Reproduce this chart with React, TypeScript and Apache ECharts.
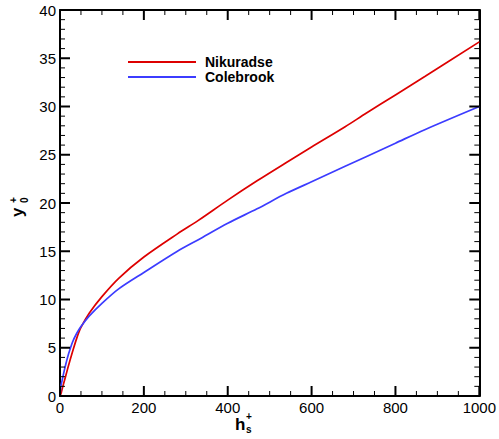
import React, { useEffect, useRef } from "react";
import * as echarts from "echarts";

const hs = [0, 2, 5, 10, 15, 20, 30, 40, 50, 70, 100, 140, 200, 280, 330, 400, 470, 540, 600, 680, 730, 800, 870, 1000];
const nikuradse = [0, 0.2, 0.7, 1.5, 2.3, 3.1, 4.6, 6.0, 7.1, 8.6, 10.3, 12.2, 14.4, 16.8, 18.2, 20.3, 22.3, 24.2, 25.8, 27.9, 29.3, 31.2, 33.1, 36.7];
const colebrook = [0, 1.0, 1.6, 2.6, 3.5, 4.3, 5.6, 6.5, 7.2, 8.3, 9.6, 11.1, 12.8, 15.0, 16.2, 17.9, 19.4, 21.0, 22.2, 23.8, 24.8, 26.2, 27.6, 30.0];
const seriesNames = ["Nikuradse", "Colebrook"];

const X_MIN = 0;
const X_MAX = 1000;
const X_MAJOR = 200;
const X_MINOR = 50;
const Y_MIN = 0;
const Y_MAX = 40;
const Y_MAJOR = 5;
const Y_MINOR = 1;

const FONT = "'Liberation Sans', Arial, sans-serif";

// tick marks: [axis (0 = x, 1 = y), value, major (1/0)]
const tickItems: number[][] = [];
for (let v = X_MIN; v <= X_MAX; v += X_MINOR) tickItems.push([0, v, v % X_MAJOR === 0 ? 1 : 0]);
for (let v = Y_MIN; v <= Y_MAX; v += Y_MINOR) tickItems.push([1, v, v % Y_MAJOR === 0 ? 1 : 0]);

export default function App() {
  const ref = useRef<HTMLDivElement>(null);
  useEffect(() => {
    if (!ref.current) return;
    const chart = echarts.init(ref.current, null, { renderer: "svg" });
    const mk = (pos: string, showLabel: boolean, min: number, max: number, interval: number) => ({
      type: "value",
      position: pos,
      min,
      max,
      interval,
      axisLine: { show: true, onZero: false, lineStyle: { color: "#000", width: 2 } },
      axisTick: { show: false },
      minorTick: { show: false },
      splitLine: { show: false },
      axisLabel: {
        show: showLabel,
        color: "#000",
        fontSize: 15,
        fontFamily: FONT,
        margin: 4,
        formatter: (v: number) => String(v),
      },
    });
    chart.setOption({
      animation: false,
      grid: { left: 60, right: 15, top: 10, bottom: 43 },
      legend: {
        orient: "vertical",
        left: 123,
        top: 50,
        icon: "rect",
        itemWidth: 68,
        itemHeight: 2,
        itemGap: 1,
        textStyle: { fontFamily: FONT, fontWeight: "bold", fontSize: 14, color: "#000", padding: [0, 0, 0, 4] },
        data: seriesNames,
      },
      xAxis: [mk("bottom", true, X_MIN, X_MAX, X_MAJOR), mk("top", false, X_MIN, X_MAX, X_MAJOR)],
      yAxis: [mk("left", true, Y_MIN, Y_MAX, Y_MAJOR), mk("right", false, Y_MIN, Y_MAX, Y_MAJOR)],
      series: [
        {
          name: seriesNames[0],
          type: "line",
          data: hs.map((x, i) => [x, nikuradse[i]]),
          showSymbol: false,
          smooth: 0.3,
          lineStyle: { color: "#dd0000", width: 1.7 },
          itemStyle: { color: "#dd0000" },
        },
        {
          name: seriesNames[1],
          type: "line",
          data: hs.map((x, i) => [x, colebrook[i]]),
          showSymbol: false,
          smooth: 0.3,
          lineStyle: { color: "#3c3cff", width: 1.7 },
          itemStyle: { color: "#3c3cff" },
        },
        {
          name: "ticks",
          type: "custom",
          silent: true,
          clip: false,
          z: 5,
          data: tickItems,
          renderItem: (_params: any, api: any) => {
            const axis = api.value(0);
            const v = api.value(1);
            const major = api.value(2) === 1;
            const len = major ? 10 : 5;
            const w = major ? 2 : 1;
            const style = { stroke: "#000", lineWidth: w };
            if (axis === 0) {
              const b = api.coord([v, Y_MIN]);
              const t = api.coord([v, Y_MAX]);
              return {
                type: "group",
                children: [
                  { type: "line", shape: { x1: b[0], y1: b[1], x2: b[0], y2: b[1] - len }, style },
                  { type: "line", shape: { x1: t[0], y1: t[1], x2: t[0], y2: t[1] + len }, style },
                ],
              };
            }
            const l = api.coord([X_MIN, v]);
            const r = api.coord([X_MAX, v]);
            return {
              type: "group",
              children: [
                { type: "line", shape: { x1: l[0], y1: l[1], x2: l[0] + len, y2: l[1] }, style },
                { type: "line", shape: { x1: r[0], y1: r[1], x2: r[0] - len, y2: r[1] }, style },
              ],
            };
          },
        },
      ],
      graphic: [
        { type: "text", x: 235, y: 416, style: { text: "h", font: `bold 17px ${FONT}`, fill: "#000" } },
        { type: "text", x: 246, y: 411, style: { text: "+", font: `bold 10px ${FONT}`, fill: "#000" } },
        { type: "text", x: 246, y: 424, style: { text: "s", font: `bold 10px ${FONT}`, fill: "#000" } },
        { type: "text", x: 9, y: 217, rotation: Math.PI / 2, style: { text: "y", font: `bold 17px ${FONT}`, fill: "#000" } },
        { type: "text", x: 8, y: 203, rotation: Math.PI / 2, style: { text: "+", font: `bold 10px ${FONT}`, fill: "#000" } },
        { type: "text", x: 19.5, y: 203, rotation: Math.PI / 2, style: { text: "0", font: `bold 10px ${FONT}`, fill: "#000" } },
      ],
    });
    return () => chart.dispose();
  }, []);
  return <div ref={ref} style={{ position: "fixed", left: 0, top: 0, width: 499, height: 439, background: "#fff" }} />;
}
